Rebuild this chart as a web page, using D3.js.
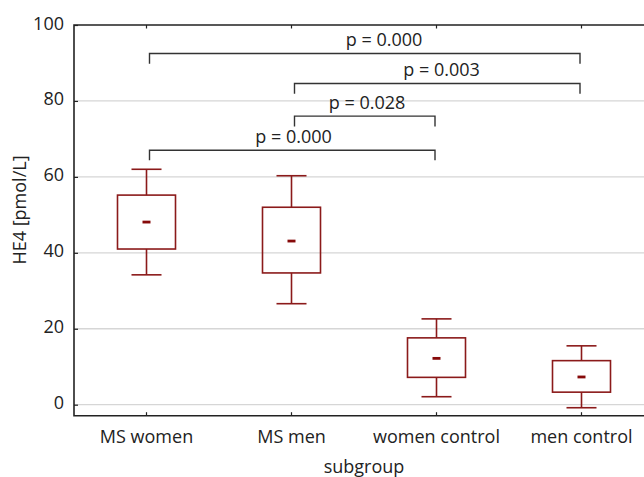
<!DOCTYPE html>
<html>
<head>
<meta charset="utf-8">
<script src="https://cdn.jsdelivr.net/npm/d3@7/dist/d3.min.js"></script>
<style>
  html, body { margin: 0; padding: 0; background: #fff; }
  svg { display: block; font-family: "Open Sans", sans-serif; }
</style>
</head>
<body>
<script>
// HE4 by subgroup: box = quartiles, whiskers = min/max, dash = median
const categories = ["MS women", "MS men", "women control", "men control"];
const whiskerLow  = [34.2, 26.6, 2.1, -0.8];
const quart1      = [41.0, 34.7, 7.2, 3.3];
const medians     = [48.1, 43.1, 12.2, 7.3];
const quart3      = [55.2, 52.0, 17.6, 11.6];
const whiskerHigh = [62.0, 60.3, 22.6, 15.5];

const yTicks = [0, 20, 40, 60, 80, 100];

// pairwise comparisons
const pairFrom  = ["MS women", "MS men", "MS men", "MS women"];
const pairTo    = ["men control", "men control", "women control", "women control"];
const pairLevel = [92.5, 84.6, 76.0, 67.0];
const pairDrop  = [89.8, 81.9, 73.3, 64.4];
const pairLabel = ["p = 0.000", "p = 0.003", "p = 0.028", "p = 0.000"];

const W = 644, H = 477;
const plotL = 74, plotT = 25, plotB = 415.7, plotR = 654;
const boxColor = "#8b1a1a", medColor = "#860a0a", ink = "#222";
const fs = 18;

const svg = d3.select("body").append("svg").attr("width", W).attr("height", H);

const x = d3.scaleBand().domain(categories).range([plotL, plotR]).padding(0);
const cx = c => x(c) + x.bandwidth() / 2;
const y = d3.scaleLinear().domain([-2.9, 100]).range([plotB, plotT]);

// gridlines
svg.append("g").selectAll("line").data(yTicks.filter(t => t < 100)).join("line")
  .attr("x1", plotL).attr("x2", W)
  .attr("y1", d => y(d)).attr("y2", d => y(d))
  .attr("stroke", "#d6d6d6").attr("stroke-width", 1.3);

// left axis
const yAxis = d3.axisLeft(y).tickValues(yTicks).tickSize(-4).tickPadding(10).tickFormat(d3.format("d"));
const gy = svg.append("g").attr("transform", `translate(${plotL},0)`).call(yAxis);
gy.select(".domain").remove();
gy.selectAll(".tick line").attr("stroke", ink).attr("stroke-width", 1.2);
gy.selectAll(".tick text").attr("font-size", fs).attr("fill", ink)
  .attr("font-family", "Open Sans, sans-serif").attr("dy", null).attr("y", 4);

// bottom axis
const xAxis = d3.axisBottom(x).tickSize(-3.5).tickPadding(14);
const gx = svg.append("g").attr("transform", `translate(0,${plotB})`).call(xAxis);
gx.select(".domain").remove();
gx.selectAll(".tick line").attr("stroke", ink).attr("stroke-width", 1.2);
gx.selectAll(".tick text").attr("font-size", fs).attr("fill", ink)
  .attr("font-family", "Open Sans, sans-serif").attr("dy", null).attr("y", 27);

// top axis (ticks only)
const gt = svg.append("g").attr("transform", `translate(0,${plotT})`)
  .call(d3.axisTop(x).tickSize(-3.5).tickFormat(""));
gt.select(".domain").remove();
gt.selectAll(".tick line").attr("stroke", ink).attr("stroke-width", 1.2);

// frame
svg.append("path")
  .attr("d", `M${W},${plotT}H${plotL}V${plotB}H${W}`)
  .attr("fill", "none").attr("stroke", ink).attr("stroke-width", 1.6);

// boxes
const boxW = x.bandwidth() * 0.4, capW = x.bandwidth() * 0.207;
const g = svg.append("g").selectAll("g").data(categories).join("g");
g.append("line")
  .attr("x1", cx).attr("x2", cx)
  .attr("y1", (d, i) => y(whiskerHigh[i])).attr("y2", (d, i) => y(quart3[i]))
  .attr("stroke", boxColor).attr("stroke-width", 1.6);
g.append("line")
  .attr("x1", cx).attr("x2", cx)
  .attr("y1", (d, i) => y(quart1[i])).attr("y2", (d, i) => y(whiskerLow[i]))
  .attr("stroke", boxColor).attr("stroke-width", 1.6);
g.append("line")
  .attr("x1", d => cx(d) - capW / 2).attr("x2", d => cx(d) + capW / 2)
  .attr("y1", (d, i) => y(whiskerHigh[i])).attr("y2", (d, i) => y(whiskerHigh[i]))
  .attr("stroke", boxColor).attr("stroke-width", 1.6);
g.append("line")
  .attr("x1", d => cx(d) - capW / 2).attr("x2", d => cx(d) + capW / 2)
  .attr("y1", (d, i) => y(whiskerLow[i])).attr("y2", (d, i) => y(whiskerLow[i]))
  .attr("stroke", boxColor).attr("stroke-width", 1.6);
g.append("rect")
  .attr("x", d => cx(d) - boxW / 2).attr("width", boxW)
  .attr("y", (d, i) => y(quart3[i]))
  .attr("height", (d, i) => y(quart1[i]) - y(quart3[i]))
  .attr("fill", "none").attr("stroke", boxColor).attr("stroke-width", 1.6);
g.append("rect")
  .attr("x", d => cx(d) - 4).attr("width", 8)
  .attr("y", (d, i) => y(medians[i]) - 1.4).attr("height", 2.8)
  .attr("fill", medColor);

// comparison brackets
const labelShift = [20, 5, 3, 2];
const br = svg.append("g").selectAll("g").data(pairLabel).join("g");
br.append("path")
  .attr("d", (d, i) => {
    const x1 = cx(pairFrom[i]) + 3, x2 = cx(pairTo[i]) - 1.5;
    return `M${x1},${y(pairDrop[i])}V${y(pairLevel[i])}H${x2}V${y(pairDrop[i])}`;
  })
  .attr("fill", "none").attr("stroke", "#333").attr("stroke-width", 1.4);
br.append("text")
  .attr("x", (d, i) => (cx(pairFrom[i]) + cx(pairTo[i])) / 2 + labelShift[i])
  .attr("y", (d, i) => y(pairLevel[i]) - 7)
  .attr("text-anchor", "middle").attr("font-size", fs).attr("fill", ink)
  .text(d => d);

// axis titles
svg.append("text")
  .attr("x", (plotL + plotR) / 2).attr("y", 473)
  .attr("text-anchor", "middle").attr("font-size", fs).attr("fill", ink)
  .text("subgroup");
svg.append("text")
  .attr("transform", "translate(26,210) rotate(-90)")
  .attr("text-anchor", "middle").attr("font-size", fs).attr("fill", ink)
  .text("HE4 [pmol/L]");
</script>
</body>
</html>
